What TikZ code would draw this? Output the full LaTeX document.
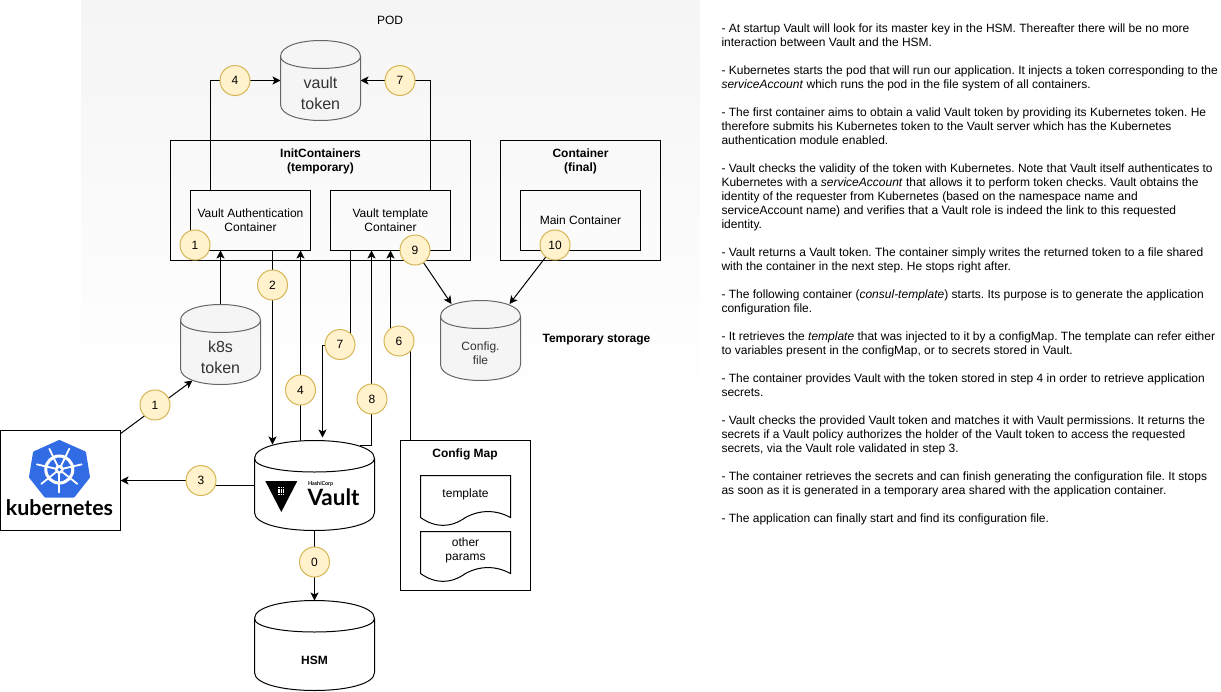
\documentclass[tikz,border=0pt]{standalone}
\usepackage{fontspec}
\setmainfont{Liberation Sans}
\newfontfamily\logofont{Lato}
\usetikzlibrary{
    arrows.meta,
    calc
}
\definecolor{stepFill}{HTML}{FFF2CC}
\definecolor{stepLine}{HTML}{D6B656}
\definecolor{storeFill}{HTML}{F5F5F5}
\definecolor{storeLine}{HTML}{666666}
\definecolor{storeText}{HTML}{333333}
\definecolor{kubeBlue}{HTML}{326CE5}
\pgfdeclarelayer{podlayer}
\pgfdeclarelayer{linklayer}
\pgfsetlayers{podlayer,linklayer,main}
\tikzset{
  base/.style    = {font=\fontsize{12}{14}\selectfont, align=center, inner sep=0pt, outer sep=0pt},
  block/.style   = {base, draw, line width=1pt, rectangle},
  title/.style   = {base, font=\fontsize{12}{14}\selectfont\bfseries},
  stepc/.style   = {base, draw=stepLine, fill=stepFill, circle, minimum size=30pt, line width=1pt},
  db/.style      = {base, minimum width=120pt, minimum height=90pt},
  store/.style   = {base, minimum width=80pt, minimum height=80pt},
  storetext/.style = {base, text=storeText},
  docsheet/.style= {base, minimum width=90pt, minimum height=50pt},
  arr/.style     = {-{Stealth[length=8pt,width=8pt,inset=2pt]}, line width=1pt},
  lin/.style     = {line width=1pt}
}
\newcommand{\bigstore}{\fontsize{16}{21}\selectfont}
\begin{document}
\frenchspacing
\begin{tikzpicture}[x=1pt,y=-1pt]
\useasboundingbox (0,0) rectangle (1221,691);
\begin{pgfonlayer}{podlayer}
\path[top color=storeFill, bottom color=white] (81,0) rectangle (700,400);
\end{pgfonlayer}
\node[base] (podtitle) at (390,20) {POD};
\node[title] (tmptitle) at (596.5,339.5) {Temporary storage};

\node[store] (vtoken) at (320.5,80.5) {};
\node[store] (ktoken) at (220.5,344.5) {};
\node[store] (cfile) at (480.5,340.5) {};
\node[db] (vault) at (314.5,485.5) {};
\node[db] (hsm) at (314.5,645.5) {};
\node[storetext, font=\bigstore] (vtokentext) at (320.5,93.5) {vault\\token};
\node[storetext, font=\bigstore] (ktokentext) at (220.5,357.5) {k8s\\token};
\node[storetext] (cfiletext) at (480.5,353.5) {Config.\\file};
\node[title] (hsmtext) at (314.5,660) {HSM};

\node[block, minimum width=300pt, minimum height=120pt] (initbox) at (320.5,200.5) {};
\node[title, anchor=north] (inittitle) at (initbox.north) [yshift=-8pt] {InitContainers\\(temporary)};
\node[block, minimum width=120pt, minimum height=60pt] (auth) at (250.5,220.5) {Vault Authentication\\Container};
\node[block, minimum width=120pt, minimum height=60pt] (tmpl) at (390.5,220.5) {Vault template\\Container};
\node[block, minimum width=160pt, minimum height=120pt] (finalbox) at (580.5,200.5) {};
\node[title, anchor=north] (finaltitle) at (finalbox.north) [yshift=-8pt] {Container\\(final)};
\node[block, minimum width=120pt, minimum height=60pt] (mainc) at (580.5,220.5) {Main Container};

\node[block, minimum width=130pt, minimum height=150pt] (cmap) at (465.5,515.5) {};
\node[title] (cmaptitle) at (465,454.5) {Config Map};
\node[docsheet] (sheeta) at (465.5,500.5) {};
\node[docsheet] (sheetb) at (465.5,556.5) {};
\foreach \n in {sheeta,sheetb}
  \draw[lin] (\n.north west) -- (\n.north east) -- ++(0,42)
    .. controls +(-15,-8) and +(15,-8) .. ++(-45,0)
    .. controls +(-15,10.5) and +(15,10.5) .. ++(-45,0) -- cycle;
\node[base] (sheetatext) at (465.5,494) {template};
\node[base] (sheetbtext) at (465.5,550) {other\\params};

\node[block, minimum width=120pt, minimum height=100pt] (kube) at (60.5,480.5) {};
\fill[kubeBlue, draw=kubeBlue, line width=3pt, line join=round]
  (59.3,441.5) -- (84.5,452.7) -- (88.5,477) -- (73.5,496) -- (45.5,496) -- (30.5,477) -- (34.5,452.7) -- cycle;
\draw[white, line width=3pt] (59.3,469.5) circle (13.5);
\foreach \a in {90,141.4,192.9,244.3,295.7,347.1,398.6}
  \draw[white, line width=1.8pt, line cap=round] (59.3,469.5) -- ++(\a:23);
\fill[white] (59.3,469.5) circle (4.5);
\fill[kubeBlue] (59.3,469.5) circle (1.8);
\node[base, font=\fontsize{21.4}{21.4}\logofont\bfseries, anchor=base] (kubename) at (59.5,515.7) {kubernetes};

\fill (265.3,481) -- (297.3,481) -- (281.3,512) -- cycle;
\foreach \i in {-1,0,1}
  \foreach \j in {0,1,2,3}
    \fill[white] (281.3+2.2*\i-0.7,487.6+2.2*\j-0.7) rectangle ++(1.4,1.4);
\node[base, font=\fontsize{5.4}{5.4}\logofont\bfseries, anchor=west] (hashi) at (308,483.5) {HashiCorp};
\node[base, font=\fontsize{22.5}{22.5}\logofont\bfseries, anchor=base west] (vaultname) at (307.5,505) {Vault};

\node[stepc] (s0) at (314.5,562) {0};
\node[stepc] (s1) at (155,405) {1};
\node[stepc] (sa) at (195,245) {1};
\node[stepc] (s2) at (272.5,285) {2};
\node[stepc] (s3) at (201,480.5) {3};
\node[stepc] (s4) at (300.5,390) {4};
\node[stepc] (st) at (235,80.5) {4};
\node[stepc] (s6) at (399,341) {6};
\node[stepc] (s7) at (340,344.5) {7};
\node[stepc] (su) at (400,80.5) {7};
\node[stepc] (s8) at (372,399) {8};
\node[stepc] (s9) at (415,250) {9};
\node[stepc] (sx) at (555,245) {10};

\begin{pgfonlayer}{linklayer}
\draw[arr] (kube.38) -- ($(ktoken.south west)+(12,-4)$);
\draw[arr] (vault.west) -- (s3.center |- vault.west) -- (s3.center) -- (kube.east);
\draw[arr] (vault.south) -- (hsm.north);
\draw[arr] (ktoken.north) -- (ktoken.north |- auth.south);
\draw[arr] (s2.center |- auth.south) -- ($(s2.center |- vault.north)+(0,4)$);
\draw[arr] (s4.center |- vault.north) -- (s4.center |- auth.south);
\draw[arr] (350.5,250.5) -- (350.5,345) -- (322.5,345) -- ($(322.5,0 |- vault.north)+(0,-3)$);
\draw[arr] (360,445) -- (371.5,445) -- (371.5,250.5);
\draw[arr] (cmap.north -| 410.5,0) -- (410.5,341) -- (390.5,341) -- (390.5,250.5);
\draw[arr] (auth.north -| 210.5,0) -- (210.5,80.5) -- (vtoken.west);
\draw[arr] (tmpl.north -| 430.5,0) -- (430.5,80.5) -- (vtoken.east);
\draw[arr] (s9) -- ($(cfile.north)+(-29,3.5)$);
\draw[arr] (sx) -- ($(cfile.north)+(29,3.5)$);
\foreach \n/\fc/\dc/\w/\h/\dy in {vtoken/storeFill/storeLine/80/80/16,ktoken/storeFill/storeLine/80/80/16,
    cfile/storeFill/storeLine/80/80/16,vault/white/black/120/90/18,hsm/white/black/120/90/18}{
  \draw[draw=\dc, fill=\fc, line width=1pt] (\n.north west) ++(0,\dy)
    .. controls +(0,-4/3*\dy) and +(0,-4/3*\dy) .. ++(\w,0) -- ++(0,\h-2*\dy)
    .. controls +(0,4/3*\dy) and +(0,4/3*\dy) .. ++(-\w,0) -- cycle;
  \draw[draw=\dc, line width=1pt] (\n.north west) ++(0,\dy)
    .. controls +(0,\dy) and +(0,\dy) .. ++(\w,0);
}
\end{pgfonlayer}

\node[base, align=left, anchor=north west] (notes) at (721.5,23.5) {%
- At startup Vault will look for its master key in the HSM. Thereafter there will be no more\\
interaction between Vault and the HSM.\\[14pt]
- Kubernetes starts the pod that will run our application. It injects a token corresponding to the\\
\textit{serviceAccount} which runs the pod in the file system of all containers.\\[14pt]
- The first container aims to obtain a valid Vault token by providing its Kubernetes token. He\\
therefore submits his Kubernetes token to the Vault server which has the Kubernetes\\
authentication module enabled.\\[14pt]
- Vault checks the validity of the token with Kubernetes. Note that Vault itself authenticates to\\
Kubernetes with a \textit{serviceAccount} that allows it to perform token checks. Vault obtains the\\
identity of the requester from Kubernetes (based on the namespace name and\\
serviceAccount name) and verifies that a Vault role is indeed the link to this requested\\
identity.\\[14pt]
- Vault returns a Vault token. The container simply writes the returned token to a file shared\\
with the container in the next step. He stops right after.\\[14pt]
- The following container (\textit{consul-template}) starts. Its purpose is to generate the application\\
configuration file.\\[14pt]
- It retrieves the \textit{template} that was injected to it by a configMap. The template can refer either\\
to variables present in the configMap, or to secrets stored in Vault.\\[14pt]
- The container provides Vault with the token stored in step 4 in order to retrieve application\\
secrets.\\[14pt]
- Vault checks the provided Vault token and matches it with Vault permissions. It returns the\\
secrets if a Vault policy authorizes the holder of the Vault token to access the requested\\
secrets, via the Vault role validated in step 3.\\[14pt]
- The container retrieves the secrets and can finish generating the configuration file. It stops\\
as soon as it is generated in a temporary area shared with the application container.\\[14pt]
- The application can finally start and find its configuration file.};
\end{tikzpicture}
\end{document}
